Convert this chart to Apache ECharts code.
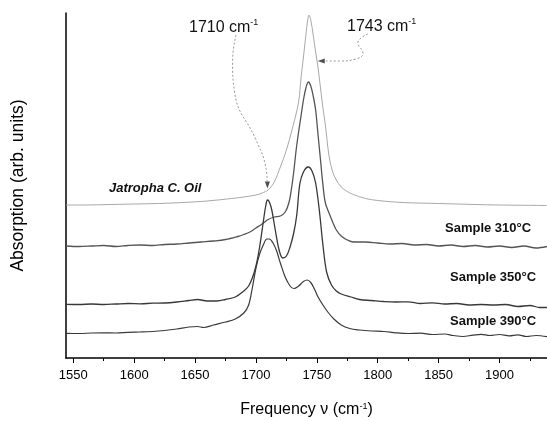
<!DOCTYPE html>
<html>
<head>
<meta charset="utf-8">
<script src="https://cdn.jsdelivr.net/npm/echarts@6/dist/echarts.min.js"></script>
<style>
html,body{margin:0;padding:0;background:#fff;}
#chart{width:547px;height:421px;}
</style>
</head>
<body>
<div id="chart"></div>
<script>
// [frequency (cm-1), absorption (arb. units, offset)]
var jatrophaOil = [
  [1544,153],[1560,153],[1580,153.5],[1600,154],[1620,154.5],[1640,155.5],[1660,157],[1680,159.5],
  [1690,161],[1700,163],[1705,165],[1710,168],[1715,176],[1720,191],[1725,208],[1730,230],
  [1735,256],[1737,280],[1739,301],[1741,323],[1742.5,338],[1743.5,343],[1745,338],[1747,323],
  [1749,306],[1751,290],[1753,270],[1755,250],[1757,233],[1760,202],[1763,186],[1766,178],
  [1770,171],[1775,166.5],[1780,163.5],[1790,159.5],[1800,157.5],[1820,155.5],[1850,154.5],
  [1880,153.5],[1900,153],[1939,152.5]
];
var sample310 = [
  [1544,112],[1555,111.5],[1565,112],[1575,112.5],[1585,111.5],[1595,112.5],[1605,113],[1615,112.5],
  [1625,113.5],[1635,114],[1645,115],[1655,116],[1665,117],[1675,118.5],[1685,121.5],[1690,123.5],
  [1695,126],[1700,130],[1705,134],[1710,138.5],[1715,141],[1720,142],[1724,146],[1727,155],
  [1729,168],[1731,186],[1733,208],[1735,226],[1737,242],[1739,258],[1741,270],[1743,276],
  [1745,272],[1747,262],[1749,248],[1751,223],[1753,198],[1755,173],[1757,155],[1760,145],
  [1763,136],[1766,128],[1770,122],[1775,118],[1780,116],[1790,116],[1800,115],[1810,114],
  [1820,114.5],[1830,113],[1840,113.5],[1850,112],[1860,113],[1870,111.5],[1880,112.5],[1890,111],
  [1900,112],[1910,110.5],[1920,112],[1930,110],[1939,111.5]
];
var sample350 = [
  [1544,53.7],[1555,53.5],[1565,54],[1575,53.5],[1585,54],[1595,54.5],[1605,54.2],[1615,54.8],
  [1625,55],[1635,56],[1645,57.5],[1652,58.5],[1660,57],[1668,57],[1675,58.5],[1683,61],
  [1690,67],[1694,72],[1697,80],[1700,92],[1703,111],[1706,136],[1708,152],[1709.5,158],
  [1711,156],[1713,148],[1716,127],[1719,108],[1722,100],[1725,102],[1728,111],[1731,125],
  [1733.5,143],[1736,174],[1739,186],[1743,191],[1746,187],[1749,175],[1752,148],[1755,113],
  [1758,86],[1762,73],[1766,67],[1770,64],[1778,61],[1785,58.5],[1795,57.5],[1805,56.5],
  [1815,56],[1825,56.2],[1835,54.5],[1845,55.2],[1855,54],[1865,54.5],[1875,53],[1885,53.5],
  [1895,53],[1905,53.5],[1915,51.5],[1925,52.5],[1933,50.5],[1939,50.5]
];
var sample390 = [
  [1544,24.7],[1555,24.5],[1565,25],[1575,25.2],[1585,25],[1595,25.7],[1605,26],[1615,26.5],
  [1625,27.5],[1635,29],[1645,31],[1652,31.5],[1657,30.5],[1665,33],[1675,36],[1683,39],
  [1690,45],[1694,53],[1697,70],[1700,90],[1703,104],[1706,113],[1709,119],[1711,119],
  [1714,115],[1717,107],[1720,95],[1724,81],[1728,72],[1731,69.5],[1735,72],[1739,76.5],
  [1742,78],[1745,75.5],[1748,69],[1751,61],[1755,53],[1759,46],[1764,39],[1770,33],
  [1777,29.5],[1785,28],[1795,27],[1805,26.5],[1815,25.2],[1825,24.5],[1835,24.8],[1845,23.5],
  [1855,24],[1862,22.5],[1870,21.5],[1878,22.8],[1885,23.7],[1892,22.5],[1900,23.5],[1908,22.2],
  [1915,23.2],[1922,21.5],[1930,22.5],[1939,21.3]
];
var majorTicks = [1550,1600,1650,1700,1750,1800,1850,1900];
var minorTicks = [1575,1625,1675,1725,1775,1825,1875,1925];
var seriesNames = ['Jatropha C. Oil','Sample 310°C','Sample 350°C','Sample 390°C'];
// annotation leader paths (data coordinates)
var arrow1710 = [[1683.6,323],[1680.8,296],[1682.3,267],[1700,218],[1707.4,195],[1709.2,177]];
var arrow1743 = [[1792,324],[1783.7,315],[1787.9,305],[1782,299],[1769,297],[1756,297]];
var arrowTips = [[1709.4,173,180],[1753.6,297,90]];

var chart = echarts.init(document.getElementById('chart'));
var font = 'Liberation Sans, Arial, sans-serif';
function curve(name, data, color, width){
  return {type:'line', name:name, data:data, showSymbol:false, smooth:0.35, silent:true,
    lineStyle:{color:color, width:width}, z:3};
}
var option = {
  animation:false,
  backgroundColor:'#fff',
  grid:{left:66, right:0, top:13, bottom:63, outerBoundsMode:'none', containLabel:false},
  xAxis:[{
    type:'value', min:1544, max:1939,
    axisLine:{show:true, onZero:false, lineStyle:{color:'#000', width:1.5}},
    axisTick:{show:true, customValues:majorTicks, length:5, lineStyle:{color:'#000', width:1}},
    axisLabel:{customValues:majorTicks, fontSize:13, fontFamily:font, color:'#000', margin:11,
      formatter:function(v){return String(v);}},
    splitLine:{show:false},
    name:'{a|Frequency ν (cm}{s|-1}{a|)}', nameLocation:'middle', nameGap:44,
    nameTextStyle:{rich:{a:{fontSize:16, fontFamily:font, color:'#000', lineHeight:16, verticalAlign:'bottom'},
      s:{fontSize:9, fontFamily:font, color:'#000', lineHeight:9, verticalAlign:'top'}}}
  },{
    type:'value', min:1544, max:1939, position:'bottom',
    axisLine:{show:false},
    axisTick:{show:true, customValues:minorTicks, length:3, lineStyle:{color:'#000', width:1}},
    axisLabel:{show:false}, splitLine:{show:false}
  }],
  yAxis:{
    type:'value', min:0, max:345,
    axisLine:{show:true, lineStyle:{color:'#000', width:1.5}},
    axisTick:{show:false}, axisLabel:{show:false}, splitLine:{show:false},
    name:'Absorption (arb. units)', nameLocation:'middle', nameGap:39,
    nameTextStyle:{fontSize:17.5, fontFamily:font, color:'#000'}
  },
  series:[
    curve(seriesNames[0], jatrophaOil, '#a8a8a8', 1),
    curve(seriesNames[1], sample310, '#555', 1.3),
    curve(seriesNames[2], sample350, '#383838', 1.3),
    curve(seriesNames[3], sample390, '#3a3a3a', 1.2),
    {type:'line', data:arrow1710, showSymbol:false, smooth:0.5, silent:true,
      lineStyle:{color:'#999', width:1, type:[2,2]}, z:2},
    {type:'line', data:arrow1743, showSymbol:false, smooth:0.5, silent:true,
      lineStyle:{color:'#999', width:1, type:[2,2]}, z:2},
    {type:'scatter', silent:true, z:4,
      data:arrowTips.map(function(t){return {value:[t[0],t[1]], symbolRotate:t[2]};}),
      symbol:'triangle', symbolSize:[5,7], itemStyle:{color:'#222'}}
  ],
  graphic:[
    {type:'text', left:189, top:18, style:{text:'{n|1710 cm}{s|-1}', rich:{
      n:{fontSize:16, fontFamily:font, fill:'#111', lineHeight:18, verticalAlign:'bottom'},
      s:{fontSize:9, fontFamily:font, fill:'#111', lineHeight:9, verticalAlign:'top'}}}},
    {type:'text', left:347, top:17, style:{text:'{n|1743 cm}{s|-1}', rich:{
      n:{fontSize:16, fontFamily:font, fill:'#111', lineHeight:18, verticalAlign:'bottom'},
      s:{fontSize:9, fontFamily:font, fill:'#111', lineHeight:9, verticalAlign:'top'}}}},
    {type:'text', left:109, top:182, style:{text:seriesNames[0], font:'italic bold 13px '+font, fill:'#111'}},
    {type:'text', left:445, top:222, style:{text:seriesNames[1], font:'bold 13px '+font, fill:'#111'}},
    {type:'text', left:450, top:271, style:{text:seriesNames[2], font:'bold 13px '+font, fill:'#111'}},
    {type:'text', left:450, top:315, style:{text:seriesNames[3], font:'bold 13px '+font, fill:'#111'}}
  ]
};
chart.setOption(option);
</script>
</body>
</html>
